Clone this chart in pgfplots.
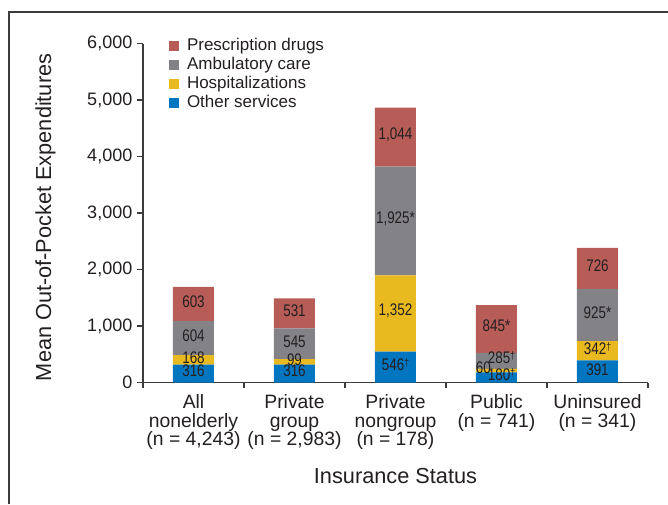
\documentclass[border=0pt]{standalone}
\usepackage{fontspec}
\setmainfont{Liberation Sans}
\newfontfamily\cond{Liberation Sans}[FakeStretch=0.8]
\usepackage{pgfplots}
\usepackage{pgfplotstable}
\pgfplotsset{compat=1.18}

\definecolor{rxred}{RGB}{184,92,87}
\definecolor{ambgray}{RGB}{131,131,135}
\definecolor{hospyel}{RGB}{233,185,32}
\definecolor{othblue}{RGB}{0,118,192}
\definecolor{txt}{RGB}{35,31,32}
\definecolor{framegray}{RGB}{60,60,60}

\newcommand\dg{\raisebox{0.45ex}{\fontsize{8}{8}\selectfont †}}

% segment values, bottom to top
\pgfplotstableread{
x other hosp amb rx
0 316 168 604 603
1 316 99 545 531
2 546 1352 1925 1044
3 180 60 285 845
4 391 342 925 726
}\costs

% where the value labels sit
\pgfplotstableread{
x y lab
0 200 316
0 440 168
0 826 604
0 1430 603
1 200 316
1 405 99
1 727 545
1 1265 531
2 313 546\dg{}
2 1262 1,352
2 2900 1,925*
2 4385 1,044
2.87 257 60
3.05 133 180\dg{}
3.05 434 285\dg{}
3 1010 845*
4 235 391
4 602 342\dg{}
4 1235 925*
4 2061 726
}\labels

\pgfplotsset{
  frame/.style={
    scale only axis,
    width=378.75pt, height=254.25pt,
    xmin=-0.5, xmax=4.5, ymin=0, ymax=6000,
    enlargelimits=false,
  },
}

\begin{document}
\begin{tikzpicture}
\useasboundingbox (-107.25pt,-91.125pt) rectangle (393.75pt,286.875pt);
\begin{axis}[
  frame,
  ybar stacked, bar width=30.75pt,
  axis x line*=bottom, axis y line*=left,
  axis line style={line width=0.9pt, color=framegray},
  tick align=outside,
  major tick length=4.5pt, minor tick length=4pt,
  tick style={color=framegray, line width=0.8pt},
  xtick={0,...,4},
  major x tick style={draw=none},
  minor xtick={-0.5,0.5,1.5,2.5,3.5,4.5},
  xticklabels={{All\\nonelderly\\(n = 4,243)},
               {Private\\group\\(n = 2,983)},
               {Private\\nongroup\\(n = 178)},
               {Public\\(n = 741)},
               {Uninsured\\(n = 341)}},
  xticklabel style={font=\fontsize{14.5}{14}\selectfont, align=center,
    text=txt, anchor=north, yshift=-1pt},
  ytick={0,1000,...,6000},
  yticklabel style={font=\fontsize{13.5}{16}\selectfont, text=txt},
  /pgf/number format/.cd, 1000 sep={,}, assume math mode=true,
  /pgfplots/.cd,
  xlabel={Insurance Status},
  ylabel={Mean Out-of-Pocket Expenditures},
  xlabel style={font=\fontsize{16.3}{18}\selectfont, text=txt,
    at={(axis description cs:0.5,-0.2965)}, anchor=base},
  ylabel style={font=\fontsize{16.3}{18}\selectfont, text=txt,
    at={(axis description cs:-0.182,0.487)}, anchor=base},
  reverse legend,
  legend image code/.code={\fill[#1] (0pt,-3.75pt) rectangle (7.5pt,3.75pt);},
  legend style={draw=none, fill=none, at={(rel axis cs:0.051,1.02)},
    anchor=north west, font=\fontsize{12.75}{14}\selectfont, text=txt,
    row sep=0pt, inner sep=0pt,
    nodes={inner sep=1pt, text height=9.5pt, text depth=2.75pt},
    /tikz/every odd column/.append style={column sep=5pt}},
  legend cell align=left,
]
\addplot[fill=othblue, draw=none] table[x=x, y=other] {\costs};
\addplot[fill=hospyel, draw=none] table[x=x, y=hosp] {\costs};
\addplot[fill=ambgray, draw=none] table[x=x, y=amb] {\costs};
\addplot[fill=rxred, draw=none] table[x=x, y=rx] {\costs};
\legend{Other services, Hospitalizations, Ambulatory care, Prescription drugs}
\end{axis}
\begin{axis}[frame, hide axis, clip=false]
\addplot[draw=none, mark=none, nodes near coords, point meta=explicit symbolic,
  nodes near coords style={anchor=center, text=txt,
    font=\cond\fontsize{12.6}{13}\selectfont}]
  table[x=x, y=y, meta=lab] {\labels};
\end{axis}
\draw[line width=1.1pt, color=framegray]
  (-100.5pt,-91.125pt) -- (-100.5pt,277.9pt) -- (393.75pt,277.9pt);
\end{tikzpicture}
\end{document}
